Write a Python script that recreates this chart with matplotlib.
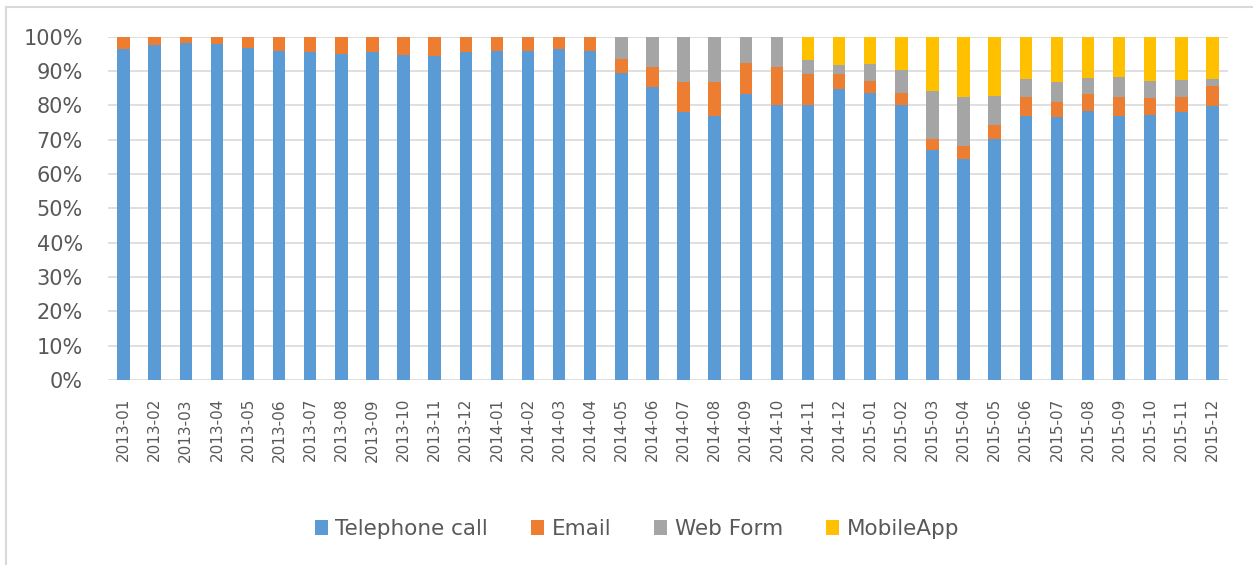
import matplotlib.pyplot as plt
import numpy as np
from matplotlib.lines import Line2D

months = ["2013-01", "2013-02", "2013-03", "2013-04", "2013-05", "2013-06",
          "2013-07", "2013-08", "2013-09", "2013-10", "2013-11", "2013-12",
          "2014-01", "2014-02", "2014-03", "2014-04", "2014-05", "2014-06",
          "2014-07", "2014-08", "2014-09", "2014-10", "2014-11", "2014-12",
          "2015-01", "2015-02", "2015-03", "2015-04", "2015-05", "2015-06",
          "2015-07", "2015-08", "2015-09", "2015-10", "2015-11", "2015-12"]
telephone = [96.3, 97.5, 98.2, 97.8, 96.7, 95.8, 95.5, 95.1, 95.5, 94.8, 94.5, 95.5,
             95.8, 95.8, 96.3, 95.8, 89.5, 85.3, 78.0, 76.8, 83.2, 80.2, 80.2, 84.7,
             83.6, 80.2, 67.1, 64.5, 70.1, 76.8, 76.5, 78.3, 76.8, 77.2, 78.0, 79.8]
email = [3.7, 2.5, 1.8, 2.2, 3.3, 4.2, 4.5, 4.9, 4.5, 5.2, 5.5, 4.5,
         4.2, 4.2, 3.7, 4.2, 4.1, 5.8, 8.9, 10.1, 9.0, 10.9, 9.0, 4.5,
         3.6, 3.4, 3.0, 3.7, 4.1, 5.7, 4.5, 4.9, 5.6, 4.9, 4.5, 5.7]
webform = [0, 0, 0, 0, 0, 0, 0, 0, 0, 0, 0, 0,
           0, 0, 0, 0, 6.4, 8.9, 13.1, 13.1, 7.8, 8.9, 4.1, 2.6,
           4.9, 6.7, 14.2, 14.2, 8.6, 5.2, 5.9, 4.9, 5.9, 4.9, 4.9, 2.2]
mobileapp = [0, 0, 0, 0, 0, 0, 0, 0, 0, 0, 0, 0,
             0, 0, 0, 0, 0, 0, 0, 0, 0, 0, 6.7, 8.2,
             7.9, 9.7, 15.7, 17.6, 17.2, 12.3, 13.1, 11.9, 11.7, 13.0, 12.6, 12.3]
series = ["Telephone call", "Email", "Web Form", "MobileApp"]
colors = ["#5b9bd5", "#ed7d31", "#a5a5a5", "#ffc000"]

txt = "#595959"
plt.rcParams['font.family'] = ['DejaVu Sans']

fig = plt.figure(figsize=(12.53, 5.65), dpi=100)
ax = fig.add_axes([108/1253, 1-380/565, (1228-108)/1253, (380-36.7)/565])

x = np.arange(len(months))
bottom = np.zeros(len(months))
for name, vals, c in zip(series, [telephone, email, webform, mobileapp], colors):
    vals = np.array(vals)
    ax.bar(x, vals, bottom=bottom, width=0.4, color=c, label=name, zorder=3)
    bottom = bottom + vals

ax.set_xlim(-0.5, len(months) - 0.5)
ax.set_ylim(0, 100)
ax.set_yticks(np.arange(0, 101, 10))
ax.set_yticklabels([str(v) + "%" for v in range(0, 101, 10)], fontsize=15, color=txt)
ax.set_xticks(x)
ax.set_xticklabels(months, rotation=90, fontsize=11, color=txt)
ax.tick_params(axis='x', length=0, pad=13)
ax.tick_params(axis='y', length=0, pad=18)
ax.grid(axis='y', color="#d9d9d9", linewidth=1.2, zorder=0)
for s in ax.spines.values():
    s.set_visible(False)

fig.legend(loc='center', bbox_to_anchor=(637/1253, 1-529/565), ncol=4, frameon=False,
           prop={'size': 15.5}, labelcolor=txt,
           handlelength=0.6, handleheight=0.75, handletextpad=0.35, columnspacing=2.0)

# chart-area border (left and top edges visible)
fig.add_artist(Line2D([6/1253, 6/1253], [0, 1-7/565], color="#d9d9d9", lw=1.5))
fig.add_artist(Line2D([6/1253, 1], [1-7/565, 1-7/565], color="#d9d9d9", lw=1.5))

fig.savefig("out.png", dpi=100)
